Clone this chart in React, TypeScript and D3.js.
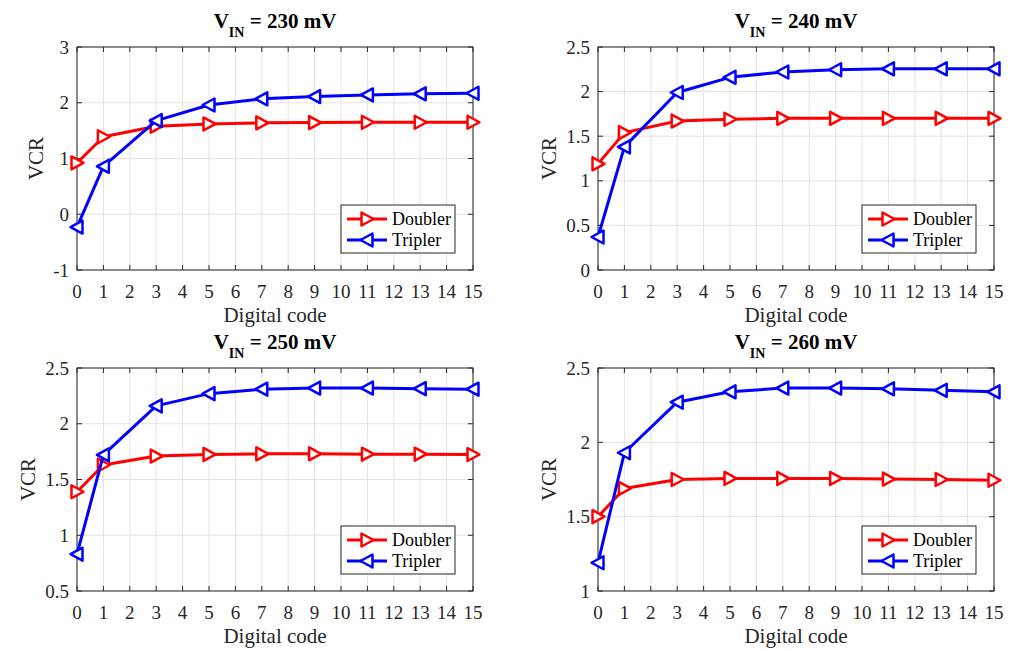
import React, { useEffect, useRef } from 'react';
import * as d3 from 'd3';

// digital codes where the curves were sampled
const codes = [0, 1, 3, 5, 7, 9, 11, 13, 15];
const xTicks = d3.range(0, 16);

const vinLabels = ['230', '240', '250', '260'];

const doubler230 = [0.92, 1.39, 1.58, 1.62, 1.64, 1.645, 1.65, 1.65, 1.65];
const tripler230 = [-0.23, 0.86, 1.68, 1.96, 2.07, 2.11, 2.14, 2.16, 2.17];

const doubler240 = [1.19, 1.54, 1.67, 1.69, 1.70, 1.70, 1.70, 1.70, 1.70];
const tripler240 = [0.37, 1.38, 1.99, 2.16, 2.22, 2.245, 2.255, 2.255, 2.255];

const doubler250 = [1.39, 1.63, 1.71, 1.725, 1.73, 1.73, 1.727, 1.727, 1.724];
const tripler250 = [0.83, 1.72, 2.16, 2.27, 2.31, 2.32, 2.32, 2.315, 2.31];

const doubler260 = [1.50, 1.69, 1.75, 1.757, 1.757, 1.757, 1.753, 1.75, 1.745];
const tripler260 = [1.19, 1.93, 2.27, 2.34, 2.365, 2.365, 2.36, 2.35, 2.34];

const yDomains = [[-1, 3], [0, 2.5], [0.5, 2.5], [1, 2.5]];
const yTickLists = [
  [-1, 0, 1, 2, 3],
  [0, 0.5, 1, 1.5, 2, 2.5],
  [0.5, 1, 1.5, 2, 2.5],
  [1, 1.5, 2, 2.5],
];

const doublerSets = [doubler230, doubler240, doubler250, doubler260];
const triplerSets = [tripler230, tripler240, tripler250, tripler260];

const W = 1011;
const H = 651;
const AXIS = '#262626';
const GRID = '#e3e3e3';
const FONT = "'Liberation Serif', 'Times New Roman', serif";

// axes frames
const colLeft = [77, 598];
const rowTop = [47, 368];
const plotW = 396;
const plotH = 223;

const App: React.FC = () => {
  const svgRef = useRef<SVGSVGElement>(null);

  useEffect(() => {
    if (!svgRef.current) return;
    const svg = d3.select(svgRef.current);
    svg.selectAll('*').remove();
    svg.attr('font-family', FONT);

    // triangle markers
    const rightTri = 'M6.5,0 L-5.5,-6.5 L-5.5,6.5 Z';
    const leftTri = 'M-6.5,0 L5.5,-6.5 L5.5,6.5 Z';

    vinLabels.forEach((vin, i) => {
      const left = colLeft[i % 2];
      const top = rowTop[Math.floor(i / 2)];
      const x = d3.scaleLinear().domain([0, 15]).range([left, left + plotW]);
      const y = d3.scaleLinear().domain(yDomains[i]).range([top + plotH, top]);
      const yTicks = yTickLists[i];
      const g = svg.append('g');

      // background + grid
      g.append('rect')
        .attr('x', left).attr('y', top).attr('width', plotW).attr('height', plotH)
        .attr('fill', '#fff');
      g.append('g').selectAll('line').data(xTicks).join('line')
        .attr('x1', d => x(d)).attr('x2', d => x(d))
        .attr('y1', top).attr('y2', top + plotH)
        .attr('stroke', GRID).attr('stroke-width', 1);
      g.append('g').selectAll('line').data(yTicks).join('line')
        .attr('x1', left).attr('x2', left + plotW)
        .attr('y1', d => y(d)).attr('y2', d => y(d))
        .attr('stroke', GRID).attr('stroke-width', 1);

      // inner ticks on all four sides
      const tk = 5;
      const ticks = g.append('g').attr('stroke', AXIS).attr('stroke-width', 1);
      xTicks.forEach(t => {
        ticks.append('line').attr('x1', x(t)).attr('x2', x(t)).attr('y1', top + plotH).attr('y2', top + plotH - tk);
        ticks.append('line').attr('x1', x(t)).attr('x2', x(t)).attr('y1', top).attr('y2', top + tk);
      });
      yTicks.forEach(t => {
        ticks.append('line').attr('x1', left).attr('x2', left + tk).attr('y1', y(t)).attr('y2', y(t));
        ticks.append('line').attr('x1', left + plotW).attr('x2', left + plotW - tk).attr('y1', y(t)).attr('y2', y(t));
      });

      // tick labels
      g.append('g').selectAll('text').data(xTicks).join('text')
        .attr('x', d => x(d)).attr('y', top + plotH + 28)
        .attr('text-anchor', 'middle')
        .attr('font-size', 19).attr('fill', AXIS)
        .text(d => String(d));
      const yLab = g.append('g').selectAll('text').data(yTicks).join('text')
        .attr('x', left - 8).attr('y', d => y(d)).attr('dy', '0.35em')
        .attr('text-anchor', 'end')
        .attr('font-size', 19).attr('fill', AXIS)
        .text(d => String(d));
      let maxW = 0;
      yLab.each(function () {
        maxW = Math.max(maxW, (this as SVGTextElement).getComputedTextLength());
      });

      // axis titles
      g.append('text')
        .attr('x', left + plotW / 2).attr('y', top + plotH + 52)
        .attr('text-anchor', 'middle')
        .attr('font-size', 21).attr('fill', AXIS)
        .text('Digital code');
      const ylx = left - 8 - maxW - 10;
      const ylY = top + plotH / 2;
      g.append('text')
        .attr('transform', `translate(${ylx},${ylY}) rotate(-90)`)
        .attr('text-anchor', 'middle')
        .attr('font-size', 21).attr('fill', AXIS)
        .text('VCR');

      // panel title with subscript
      const title = g.append('text')
        .attr('x', left + plotW / 2).attr('y', top - 19)
        .attr('text-anchor', 'middle')
        .attr('font-size', 21).attr('font-weight', 'bold').attr('fill', '#000');
      title.append('tspan').text('V');
      title.append('tspan').attr('dy', 9).attr('font-size', 14).text('IN');
      title.append('tspan').attr('dy', -9).text(` = ${vin} mV`);

      // box
      g.append('rect')
        .attr('x', left).attr('y', top).attr('width', plotW).attr('height', plotH)
        .attr('fill', 'none').attr('stroke', AXIS).attr('stroke-width', 1);

      // series
      const series = [
        { name: 'Doubler', color: '#ff0000', values: doublerSets[i], marker: rightTri },
        { name: 'Tripler', color: '#0000ff', values: triplerSets[i], marker: leftTri },
      ];
      const line = d3.line<[number, number]>().x(d => x(d[0])).y(d => y(d[1]));
      series.forEach(s => {
        const pts = codes.map((c, k) => [c, s.values[k]] as [number, number]);
        g.append('path')
          .attr('d', line(pts) as string)
          .attr('fill', 'none').attr('stroke', s.color).attr('stroke-width', 3)
          .attr('stroke-linejoin', 'round');
        g.append('g').selectAll('path').data(pts).join('path')
          .attr('transform', d => `translate(${x(d[0])},${y(d[1])})`)
          .attr('d', s.marker)
          .attr('fill', '#fff').attr('stroke', s.color).attr('stroke-width', 2.5)
          .attr('stroke-linejoin', 'round');
      });

      // legend
      const lw = 114;
      const lh = 48;
      const lx = left + plotW - 18 - lw;
      const ly = top + plotH - 17 - lh;
      const leg = g.append('g');
      leg.append('rect')
        .attr('x', lx).attr('y', ly).attr('width', lw).attr('height', lh)
        .attr('fill', '#fff').attr('stroke', AXIS).attr('stroke-width', 1);
      series.forEach((s, k) => {
        const ry = ly + 14 + k * 21;
        leg.append('line')
          .attr('x1', lx + 6).attr('x2', lx + 46).attr('y1', ry).attr('y2', ry)
          .attr('stroke', s.color).attr('stroke-width', 3);
        leg.append('path')
          .attr('transform', `translate(${lx + 26},${ry})`)
          .attr('d', s.marker)
          .attr('fill', '#fff').attr('stroke', s.color).attr('stroke-width', 2.5)
          .attr('stroke-linejoin', 'round');
        leg.append('text')
          .attr('x', lx + 51).attr('y', ry).attr('dy', '0.35em')
          .attr('font-size', 18).attr('fill', '#000')
          .text(s.name);
      });
    });
  }, []);

  return (
    <svg
      ref={svgRef}
      width={W}
      height={H}
      style={{ position: 'absolute', left: 0, top: 0, background: '#fff' }}
    />
  );
};

export default App;
